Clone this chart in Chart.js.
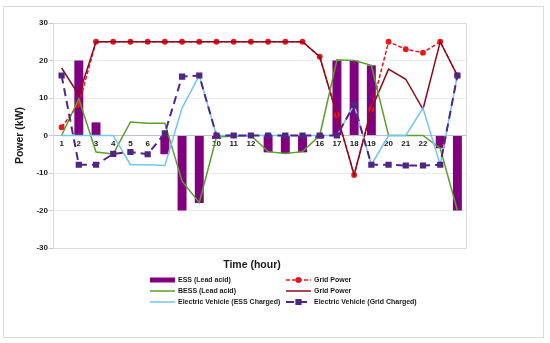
<!DOCTYPE html>
<html>
<head>
<meta charset="utf-8">
<script src="https://cdn.jsdelivr.net/npm/chart.js@4.4.1/dist/chart.umd.min.js"></script>
<style>
    html, body { margin: 0; padding: 0; background: #fff; }
    #wrap { position: relative; width: 550px; height: 343px; }
</style>
</head>
<body>
<div id="wrap"><canvas id="powerChart"></canvas></div>
<script>
/* global Chart */

// Hourly power flows (kW)
const hours = ['1', '2', '3', '4', '5', '6', '7', '8', '9', '10', '11', '12',
    '13', '14', '15', '16', '17', '18', '19', '20', '21', '22', '23', '24'];

const essLeadAcid = [0, 20, 3.5, 0, 0, 0, -5, -20, -18, -0.9, 0, 0,
    -4.5, -4.8, -4.5, -0.8, 20, 20, 18.7, 0, 0, 0, -3.4, -20];

const gridPowerDashed = [2.2, 8.3, 25, 25, 25, 25, 25, 25, 25, 25, 25, 25,
    25, 25, 25, 21, 5.5, -10.5, 7, 25, 23, 22.1, 25, 16];

const bessLeadAcid = [0, 9.8, -4.4, -4.9, 3.6, 3.3, 3.3, -12.2, -17.9, -0.4, -0.2, 0,
    -4.3, -4.8, -4.3, 0, 20.2, 20, 18.7, 0, 0, 0, -3.4, -20];

const gridPower = [18, 10.8, 25, 25, 25, 25, 25, 25, 25, 25, 25, 25,
    25, 25, 25, 21, 5.5, -10.5, 7, 17.7, 15, 7, 25, 16];

const evEssCharged = [0, 0, 0, 0, -7.8, -7.8, -8, 7.3, 16, 0, 0, 0,
    0, 0, 0, 0, 0, 8.2, -7.8, 0, 0, 7.3, -7.8, 16];

const evGridCharged = [16, -7.8, -7.8, -4.9, -4.4, -5, 0.6, 15.7, 16, 0, 0, 0,
    0, 0, 0, 0, 0, 8.2, -7.8, -7.8, -8, -8, -7.8, 16];

const FONT = '"Liberation Sans", Arial, sans-serif';

// Frame, plot border, x title and a two column legend (Excel style)
const excelFrame = {
    id: 'excelFrame',
    beforeDraw(chart) {
        const ctx = chart.ctx;
        ctx.save();
        ctx.fillStyle = '#ffffff';
        ctx.fillRect(0, 0, chart.width, chart.height);
        ctx.strokeStyle = '#d9d9d9';
        ctx.lineWidth = 1;
        ctx.strokeRect(3.5, 6.5, 540, 331);
        ctx.restore();
    },
    beforeDatasetsDraw(chart) {
        const { ctx, chartArea: a } = chart;
        ctx.save();
        ctx.strokeStyle = '#d9d9d9';
        ctx.lineWidth = 1;
        ctx.strokeRect(Math.round(a.left) + 0.5, Math.round(a.top) + 0.5,
            Math.round(a.right - a.left), Math.round(a.bottom - a.top));
        ctx.restore();
    },
    afterDraw(chart) {
        const ctx = chart.ctx;
        ctx.save();
        ctx.fillStyle = '#1a1a1a';
        ctx.font = 'bold 10.5px ' + FONT;
        ctx.textAlign = 'center';
        ctx.textBaseline = 'middle';
        ctx.fillText('Time (hour)', 252, 265.5);

        const cols = [150, 286];
        const rows = [280, 291, 302];
        ctx.font = 'bold 7px ' + FONT;
        ctx.textAlign = 'left';
        chart.data.datasets.forEach((ds, i) => {
            const x = cols[i % 2];
            const y = rows[Math.floor(i / 2)];
            if (ds.type === 'bar') {
                ctx.fillStyle = ds.backgroundColor;
                ctx.fillRect(x, y - 2.5, 25, 5);
            } else {
                ctx.strokeStyle = ds.borderColor;
                ctx.lineWidth = ds.borderWidth;
                ctx.setLineDash(ds.borderDash || []);
                ctx.beginPath();
                ctx.moveTo(x, y);
                ctx.lineTo(x + 25, y);
                ctx.stroke();
                ctx.setLineDash([]);
                if (ds.pointRadius > 0) {
                    Chart.helpers.drawPoint(ctx, {
                        pointStyle: ds.pointStyle,
                        radius: ds.pointRadius,
                        borderWidth: 1
                    }, x + 12.5, y);
                    ctx.fillStyle = ds.pointBackgroundColor;
                    ctx.fill();
                }
            }
            ctx.fillStyle = '#1a1a1a';
            ctx.fillText(ds.label, x + 28, y + 0.5);
        });
        ctx.restore();
    }
};

window.addEventListener('load', () => {
    const ctx = document.getElementById('powerChart').getContext('2d');

    new Chart(ctx, {
        type: 'bar',
        data: {
            labels: hours,
            datasets: [
                {
                    type: 'bar',
                    label: 'ESS (Lead acid)',
                    data: essLeadAcid,
                    backgroundColor: '#800080',
                    barPercentage: 0.52,
                    categoryPercentage: 1,
                    order: 10
                },
                {
                    type: 'line',
                    label: 'Grid Power',
                    data: gridPowerDashed,
                    borderColor: '#e8161b',
                    borderWidth: 1.5,
                    borderDash: [4, 2],
                    pointStyle: 'circle',
                    pointRadius: 2.2,
                    pointBackgroundColor: '#e8161b',
                    pointBorderColor: '#e8161b',
                    tension: 0,
                    order: 6
                },
                {
                    type: 'line',
                    label: 'BESS (Lead acid)',
                    data: bessLeadAcid,
                    borderColor: '#5aa02c',
                    borderWidth: 1.5,
                    pointRadius: 0,
                    tension: 0,
                    order: 3
                },
                {
                    type: 'line',
                    label: 'Grid Power',
                    data: gridPower,
                    borderColor: '#8b0a1e',
                    borderWidth: 1.5,
                    pointRadius: 0,
                    tension: 0,
                    order: 4
                },
                {
                    type: 'line',
                    label: 'Electric Vehicle (ESS Charged)',
                    data: evEssCharged,
                    borderColor: '#70c6f4',
                    borderWidth: 1.5,
                    pointRadius: 0,
                    tension: 0,
                    order: 2
                },
                {
                    type: 'line',
                    label: 'Electric Vehicle (Grid Charged)',
                    data: evGridCharged,
                    borderColor: '#4f2683',
                    borderWidth: 2,
                    borderDash: [8, 5],
                    pointStyle: 'rect',
                    pointRadius: 3,
                    pointBackgroundColor: '#4f2683',
                    pointBorderColor: '#4f2683',
                    tension: 0,
                    order: 1
                }
            ]
        },
        plugins: [excelFrame],
        options: {
            responsive: true,
            maintainAspectRatio: false,
            animation: false,
            events: [],
            layout: {
                padding: { left: 0, top: 23, right: 84, bottom: 95 }
            },
            scales: {
                x: {
                    position: { y: 0 },
                    z: 1,
                    grid: { display: false, drawTicks: false },
                    border: { display: true, color: '#c4bccb', width: 1 },
                    ticks: {
                        padding: 3,
                        color: '#1a1a1a',
                        font: { family: FONT, size: 8, weight: 'bold' },
                        maxRotation: 0,
                        autoSkip: false
                    }
                },
                y: {
                    min: -30,
                    max: 30,
                    afterFit: (scale) => { scale.width = 53; },
                    grid: {
                        color: '#ebebeb',
                        tickColor: '#c8c8c8',
                        tickLength: 4
                    },
                    border: { display: true, color: '#c8c8c8', width: 1 },
                    ticks: {
                        stepSize: 10,
                        padding: 1,
                        color: '#1a1a1a',
                        font: { family: FONT, size: 8, weight: 'bold' }
                    },
                    title: {
                        display: true,
                        text: 'Power (kW)',
                        color: '#1a1a1a',
                        font: { family: FONT, size: 10.5, weight: 'bold' },
                        padding: { top: 13.5, bottom: 0 }
                    }
                }
            },
            plugins: {
                legend: { display: false },
                tooltip: { enabled: false }
            }
        }
    });
});
</script>
</body>
</html>
